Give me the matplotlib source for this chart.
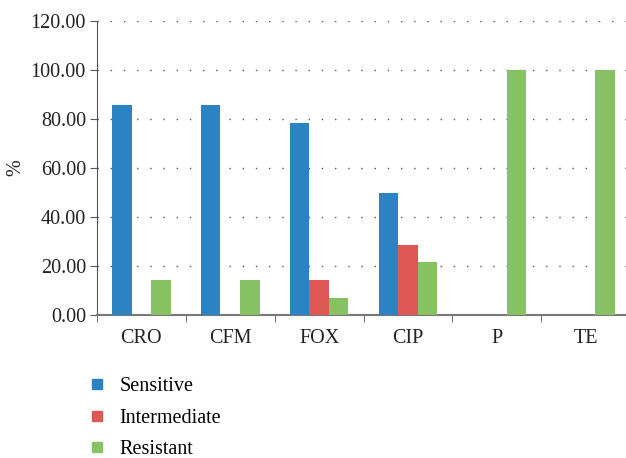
import matplotlib
matplotlib.use("Agg")
import matplotlib.pyplot as plt
import numpy as np
from matplotlib.lines import Line2D

categories = ["CRO", "CFM", "FOX", "CIP", "P", "TE"]
sensitive = [85.71, 85.71, 78.57, 50.00, 0.0, 0.0]
intermediate = [0.0, 0.0, 14.29, 28.57, 0.0, 0.0]
resistant = [14.29, 14.29, 7.14, 21.43, 100.00, 100.00]
series_names = ["Sensitive", "Intermediate", "Resistant"]
colors = ["#2b83c3", "#de5855", "#86c262"]

plt.rcParams["font.family"] = ["Liberation Serif", "DejaVu Serif"]

fig = plt.figure(figsize=(6.26, 4.58), dpi=100)
ax = fig.add_axes([97 / 626, 1 - 315 / 458, 533 / 626, 294 / 458])

x = np.arange(len(categories))
w = 0.22
for i, (vals, name, col) in enumerate(zip([sensitive, intermediate, resistant], series_names, colors)):
    ax.bar(x + (i - 1) * w, vals, width=w, color=col, label=name, zorder=3)

ax.set_xlim(-0.5, len(categories) - 0.5)
ax.set_ylim(0, 120)
ax.set_yticks(np.arange(0, 121, 20))
ax.set_yticklabels([f"{v:.2f}" for v in np.arange(0, 121, 20)], fontsize=14.5, color="#222222")
ax.set_xticks(x)
ax.set_xticklabels(categories, fontsize=14.5, color="#222222")
ax.set_xticks(np.arange(-0.5, len(categories)), minor=True)
ax.tick_params(axis="x", which="major", length=0, pad=10)
ax.tick_params(axis="x", which="minor", length=5, color="#555555")
ax.tick_params(axis="y", length=5, color="#555555", pad=3)

for v in range(20, 121, 20):
    ax.axhline(v, color="#555555", linewidth=1.0, linestyle=(0, (1, 8.5)), zorder=1)

for s in ["top", "right"]:
    ax.spines[s].set_visible(False)
ax.spines["left"].set_color("#555555")
ax.spines["bottom"].set_color("#777777")
ax.spines["bottom"].set_linewidth(1.5)

ax.set_ylabel("%", fontsize=14.5, color="#222222")
ax.yaxis.set_label_coords(-0.135, 0.5)

handles = [Line2D([], [], marker="s", linestyle="none", color=c, markersize=7) for c in colors]
fig.legend(handles, series_names, loc="upper left", bbox_to_anchor=(89 / 626, 1 - 377 / 458),
           frameon=False, fontsize=14.5, handlelength=0.8, handletextpad=0.7, labelspacing=0.62,
           borderaxespad=0, borderpad=0)

fig.savefig("out.png", dpi=100)
